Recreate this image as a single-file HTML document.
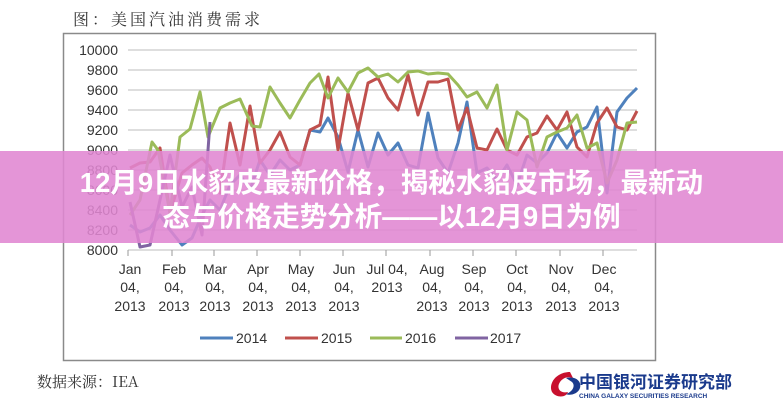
<!DOCTYPE html>
<html><head><meta charset="utf-8"><style>
body{margin:0;width:783px;height:400px;background:#fff;overflow:hidden;position:relative;font-family:"Liberation Sans","Noto Sans CJK SC",sans-serif}
svg{position:absolute;left:0;top:0}
.banner{position:absolute;left:0;top:151px;width:783px;height:92px;background:rgba(224,134,210,0.88)}
.bt{position:absolute;left:0;top:166px;width:783px;text-align:center;color:#fff;font-weight:bold;font-size:27.5px;line-height:34px;font-family:"Liberation Sans","Noto Sans CJK SC",sans-serif;white-space:nowrap}
</style></head><body>
<svg width="783" height="400" viewBox="0 0 783 400">
<text x="73" y="25" font-size="16" fill="#333" font-family="'Noto Serif CJK SC',serif" letter-spacing="3">图：美国汽油消费需求</text>
<rect x="63.5" y="33.5" width="592" height="327" fill="#fff" stroke="#8a8a8a" stroke-width="1.5"/>
<g stroke="#bdbdbd" stroke-width="1">
<line x1="128" y1="50" x2="637" y2="50"/><line x1="128" y1="70" x2="637" y2="70"/><line x1="128" y1="90" x2="637" y2="90"/><line x1="128" y1="110" x2="637" y2="110"/><line x1="128" y1="130" x2="637" y2="130"/><line x1="128" y1="150" x2="637" y2="150"/><line x1="128" y1="170" x2="637" y2="170"/><line x1="128" y1="190" x2="637" y2="190"/><line x1="128" y1="210" x2="637" y2="210"/><line x1="128" y1="230" x2="637" y2="230"/><line x1="128" y1="250" x2="637" y2="250"/>
</g>
<g font-size="14" fill="#333" text-anchor="end" font-family="'Liberation Sans',sans-serif">
<text x="118" y="55">10000</text><text x="118" y="75">9800</text><text x="118" y="95">9600</text><text x="118" y="115">9400</text><text x="118" y="135">9200</text><text x="118" y="155">9000</text><text x="118" y="175">8800</text><text x="118" y="195">8600</text><text x="118" y="215">8400</text><text x="118" y="235">8200</text><text x="118" y="255">8000</text>
</g>
<g fill="none" stroke-width="3" stroke-linejoin="round">
<polyline stroke="#4f81bd" points="130,225 140,232 150,228 160,215 170,230 182,245 192,238 202,215 210,200 220,210 230,185 240,175 250,190 260,160 270,175 280,160 290,170 300,165 310,130 320,132 328,118 338,137 348,172 358,130 368,167 378,133 388,155 398,143 408,165 418,168 428,113 438,158 448,173 458,143 467,102 477,173 487,168 497,180 507,165 517,185 527,155 537,163 547,153 557,133 567,148 577,132 587,127 597,107 607,193 617,112 627,98 637,88"/>
<polyline stroke="#c0504d" points="130,168 140,163 150,162 160,148 170,213 182,173 192,165 202,158 210,167 220,193 230,123 240,165 250,106 260,163 270,150 280,132 290,157 300,165 310,130 320,125 328,77 338,150 348,93 358,130 368,83 378,78 388,98 398,110 408,75 418,115 428,82 438,82 448,79 458,130 467,108 477,148 487,150 497,129 507,150 517,155 527,137 537,133 547,116 557,130 567,112 577,147 587,157 597,123 607,108 617,127 627,130 637,111"/>
<polyline stroke="#9bbb59" points="130,215 140,200 152,142 158,150 170,213 180,137 190,129 200,92 208,137 220,108 230,103 240,99 252,126 260,127 270,87 280,103 290,118 300,100 310,83 319,74 328,98 338,78 348,92 358,73 368,68 378,77 388,74 398,82 408,72 418,71 428,74 438,73 448,74 458,85 467,97 477,92 487,108 497,85 507,150 517,112 527,120 537,167 547,137 557,132 567,128 577,115 587,148 597,143 607,183 617,160 627,123 637,122"/>
<polyline stroke="#8064a2" points="130,202 140,247 150,245 160,200 170,155 182,207 192,187 202,235 210,122"/>
</g>
<g stroke="#999" stroke-width="1">
<line x1="128" y1="250" x2="128" y2="256"/><line x1="172" y1="250" x2="172" y2="256"/><line x1="214" y1="250" x2="214" y2="256"/><line x1="257" y1="250" x2="257" y2="256"/><line x1="300" y1="250" x2="300" y2="256"/><line x1="343" y1="250" x2="343" y2="256"/><line x1="386" y1="250" x2="386" y2="256"/><line x1="430" y1="250" x2="430" y2="256"/><line x1="473" y1="250" x2="473" y2="256"/><line x1="516" y1="250" x2="516" y2="256"/><line x1="560" y1="250" x2="560" y2="256"/><line x1="603" y1="250" x2="603" y2="256"/>
</g>
<g font-size="14" fill="#333" text-anchor="middle" font-family="'Liberation Sans',sans-serif">
<text x="130" y="274">Jan</text><text x="130" y="292">04,</text><text x="130" y="311">2013</text>
<text x="174" y="274">Feb</text><text x="174" y="292">04,</text><text x="174" y="311">2013</text>
<text x="215" y="274">Mar</text><text x="215" y="292">04,</text><text x="215" y="311">2013</text>
<text x="258" y="274">Apr</text><text x="258" y="292">04,</text><text x="258" y="311">2013</text>
<text x="301" y="274">May</text><text x="301" y="292">04,</text><text x="301" y="311">2013</text>
<text x="344" y="274">Jun</text><text x="344" y="292">04,</text><text x="344" y="311">2013</text>
<text x="387" y="274">Jul 04,</text><text x="387" y="292">2013</text>
<text x="432" y="274">Aug</text><text x="432" y="292">04,</text><text x="432" y="311">2013</text>
<text x="474" y="274">Sep</text><text x="474" y="292">04,</text><text x="474" y="311">2013</text>
<text x="517" y="274">Oct</text><text x="517" y="292">04,</text><text x="517" y="311">2013</text>
<text x="561" y="274">Nov</text><text x="561" y="292">04,</text><text x="561" y="311">2013</text>
<text x="604" y="274">Dec</text><text x="604" y="292">04,</text><text x="604" y="311">2013</text>
</g>
<g stroke-width="3">
<line x1="200" y1="338" x2="233" y2="338" stroke="#4f81bd"/><line x1="285" y1="338" x2="318" y2="338" stroke="#c0504d"/><line x1="370" y1="338" x2="402" y2="338" stroke="#9bbb59"/><line x1="455" y1="338" x2="488" y2="338" stroke="#8064a2"/>
</g>
<g font-size="14" fill="#333" font-family="'Liberation Sans',sans-serif">
<text x="236" y="343">2014</text><text x="321" y="343">2015</text><text x="405" y="343">2016</text><text x="490" y="343">2017</text>
</g>
<text x="37" y="387" font-size="15" fill="#333" font-family="'Noto Serif CJK SC',serif">数据来源：IEA</text>
<g>
<path d="M570,372 C556,372 548,384 552,392 C556,398 566,398 568,392 C560,394 556,388 560,382 C564,376 572,376 574,380 Z" fill="#c8102e"/>
<path d="M566,378 C574,376 582,380 580,388 C578,394 570,396 566,394 C572,392 576,386 572,382 Z" fill="#1a3a8c"/>
<text x="579" y="388" font-size="17" font-weight="bold" fill="#1a3a8c" font-family="'Noto Sans CJK SC',sans-serif">中国银河证券研究部</text>
<text x="579" y="398" font-size="6.5" font-weight="bold" fill="#1a3a8c">CHINA GALAXY SECURITIES RESEARCH</text>
</g>
</svg>
<div class="banner"></div>
<div class="bt">12月9日水貂皮最新价格，揭秘水貂皮市场，最新动<br>态与价格走势分析——以12月9日为例</div>
</body></html>
